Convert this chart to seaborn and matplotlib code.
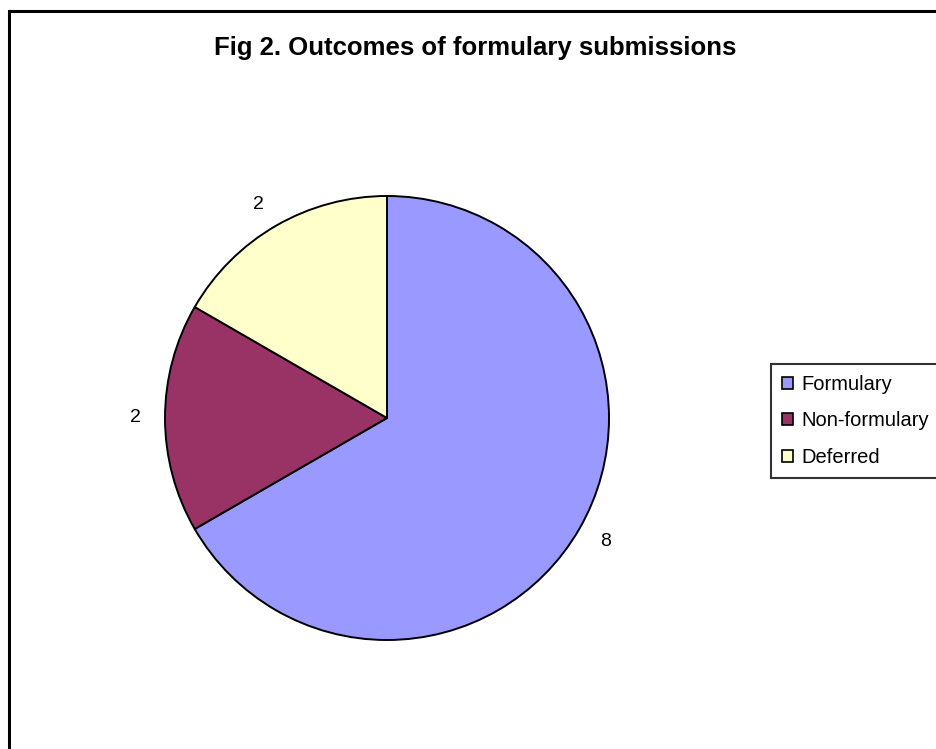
import matplotlib
matplotlib.use("Agg")
import matplotlib.pyplot as plt
import seaborn as sns
from matplotlib.patches import Rectangle

# ── Data ────────────────────────────────────────────────────────────────────

categories = ["Formulary", "Non-formulary", "Deferred"]
counts = [8, 2, 2]
colours = ["#9999FF", "#993366", "#FFFFCC"]
title = "Fig 2. Outcomes of formulary submissions"

# ── Style ───────────────────────────────────────────────────────────────────

sns.set_style("white")
plt.rcParams["font.family"] = ["Liberation Sans", "DejaVu Sans"]
plt.rcParams["text.color"] = "black"

W, H = 936, 749
fig = plt.figure(figsize=(W / 100, H / 100), dpi=100)
fig.patch.set_facecolor("white")

# pie centre ~ (387, 418) px, radius ~ 222 px
cx, cy, r = 387, 418, 222
ax = fig.add_axes([(cx - r) / W, (H - cy - r) / H, 2 * r / W, 2 * r / H])

wedges, texts = ax.pie(
    counts,
    labels=[str(c) for c in counts],
    colors=colours,
    startangle=90,
    counterclock=False,
    labeldistance=1.11,
    radius=1,
    wedgeprops=dict(edgecolor="black", linewidth=1.4),
    textprops=dict(fontsize=14, color="black"),
)
ax.set_xlim(-1, 1)
ax.set_ylim(-1, 1)
ax.set_aspect("equal")
ax.axis("off")

fig.text(475 / W, 1 - 55 / H, title, ha="center", va="baseline",
         fontsize=18.5, fontweight="bold", color="black")

# legend, cut by the right edge like the original
handles = [Rectangle((0, 0), 1, 1, facecolor=c, edgecolor="black", linewidth=1.2)
           for c in colours]
leg = fig.legend(
    handles, categories,
    loc="upper left",
    bbox_to_anchor=(771 / W, 1 - 364 / H),
    frameon=True, fancybox=False, shadow=False,
    fontsize=14.5,
    handlelength=0.55, handleheight=0.55, handletextpad=0.42,
    labelspacing=0.86, borderpad=0.55, borderaxespad=0,
)
leg.get_frame().set_edgecolor("black")
leg.get_frame().set_linewidth(1.5)
for t in leg.get_texts():
    t.set_color("black")

# outer chart frame (only left and top edges are visible)
fig.patches.append(Rectangle((9 / W, -0.1), 1.2, 1.1 - 11 / H, fill=False,
                             edgecolor="black", linewidth=2.2,
                             transform=fig.transFigure, figure=fig))

fig.savefig("out.png", dpi=100)
